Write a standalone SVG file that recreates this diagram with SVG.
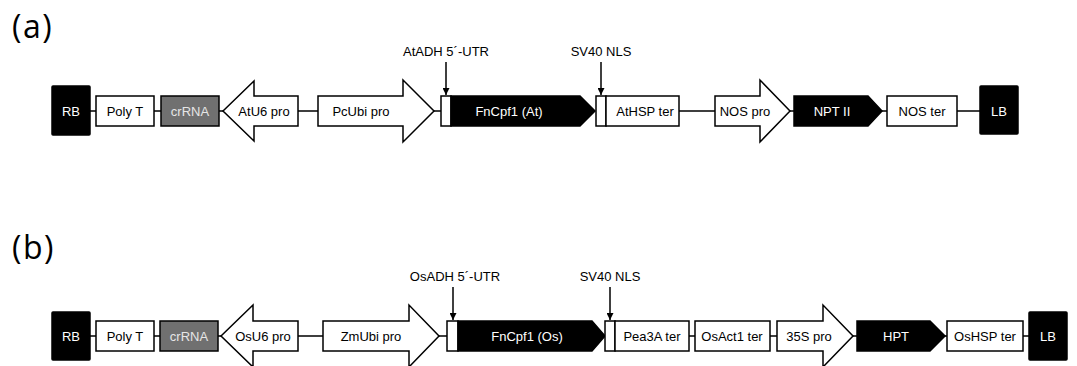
<svg xmlns="http://www.w3.org/2000/svg" width="1077" height="366" viewBox="0 0 1077 366">
<style>
.b{fill:#000;stroke:#000;stroke-width:1.5}
.w{fill:#fff;stroke:#000;stroke-width:1.5}
.g{fill:#707070;stroke:#000;stroke-width:1.5}
.t{font-family:"Liberation Sans",Arial,sans-serif;font-size:13px;text-anchor:middle;fill:#000}
.tw{font-family:"Liberation Sans",Arial,sans-serif;font-size:13px;text-anchor:middle;fill:#fff}
.tg{font-family:"Liberation Sans",Arial,sans-serif;font-size:13px;text-anchor:middle;fill:#e6e6e6}
.p{font-family:"Open Sans","Liberation Sans",sans-serif;font-size:32px;letter-spacing:1.5px;fill:#000}
.c{stroke:#000;stroke-width:1.5;fill:none}
</style>
<defs>
<marker id="ah" viewBox="0 0 10 10" refX="10" refY="5" markerWidth="7" markerHeight="7" markerUnits="userSpaceOnUse" orient="auto">
<path d="M0,0 L10,5 L0,10 z" fill="#000"/>
</marker>
</defs>
<rect width="1077" height="366" fill="#fff"/>
<text class="p" x="12" y="38">(a)</text>
<text class="p" x="12" y="259">(b)</text>

<g id="connectors">
<path class="c" d="M90,111H96M154,111H161M219,111H223M298,111H318M434,111H441M679,111H715M790,111H794M882,111H887M957,111H980"/>
<path class="c" d="M90,336H96M154,336H160M218,336H221M298,336H323M439,336H447M689,336H695M770,336H777M853,336H857M945,336H947M1023,336H1029"/>
<line class="c" x1="446" y1="62" x2="446" y2="95" marker-end="url(#ah)"/>
<line class="c" x1="601" y1="62" x2="601" y2="95" marker-end="url(#ah)"/>
<line class="c" x1="453" y1="287" x2="453" y2="320" marker-end="url(#ah)"/>
<line class="c" x1="610" y1="287" x2="610" y2="320" marker-end="url(#ah)"/>
</g>

<!-- Row a -->
<g id="a-rb"><rect class="b" x="52" y="86" width="38" height="49" rx="1"/><text class="tw" x="71" y="115.5">RB</text></g>
<g id="a-polyt"><rect class="w" x="96" y="96" width="58" height="30"/><text class="t" x="125" y="115.5">Poly T</text></g>
<g id="a-crrna"><rect class="g" x="161" y="96" width="58" height="30"/><text class="tg" x="190" y="115.5">crRNA</text></g>
<g id="a-atu6"><polygon class="w" points="223,111 254,81 254,96 298,96 298,126 254,126 254,141"/><text class="t" x="264" y="115.5">AtU6 pro</text></g>
<g id="a-pcubi"><polygon class="w" points="318,96 403,96 403,80 434,111 403,142 403,126 318,126"/><text class="t" x="361" y="115.5">PcUbi pro</text></g>
<g id="a-utr"><rect class="w" x="441" y="96" width="10" height="30"/><text class="t" x="446" y="56">AtADH 5´-UTR</text></g>
<g id="a-fncpf1"><polygon class="b" points="451,96 580,96 595,111 580,126 451,126"/><text class="tw" x="509" y="115.5">FnCpf1 (At)</text></g>
<g id="a-sv40"><rect class="w" x="596" y="96" width="10" height="30"/><text class="t" x="601" y="56">SV40 NLS</text></g>
<g id="a-athsp"><rect class="w" x="606" y="96" width="73" height="30"/><text class="t" x="645" y="115.5">AtHSP ter</text></g>
<g id="a-nospro"><polygon class="w" points="715,96 760,96 760,80 790,111 760,142 760,126 715,126"/><text class="t" x="745" y="115.5">NOS pro</text></g>
<g id="a-nptii"><polygon class="b" points="794,96 868,96 882,111 868,126 794,126"/><text class="tw" x="832" y="115.5">NPT II</text></g>
<g id="a-noster"><rect class="w" x="887" y="96" width="70" height="30"/><text class="t" x="922" y="115.5">NOS ter</text></g>
<g id="a-lb"><rect class="b" x="980" y="86" width="38" height="48" rx="1"/><text class="tw" x="999" y="115.5">LB</text></g>

<!-- Row b -->
<g id="b-rb"><rect class="b" x="52" y="312" width="38" height="48" rx="1"/><text class="tw" x="71" y="340.5">RB</text></g>
<g id="b-polyt"><rect class="w" x="96" y="321" width="58" height="30"/><text class="t" x="125" y="340.5">Poly T</text></g>
<g id="b-crrna"><rect class="g" x="160" y="321" width="58" height="30"/><text class="tg" x="189" y="340.5">crRNA</text></g>
<g id="b-osu6"><polygon class="w" points="221,336 253,305 253,321 298,321 298,351 253,351 253,367"/><text class="t" x="263" y="340.5">OsU6 pro</text></g>
<g id="b-zmubi"><polygon class="w" points="323,321 409,321 409,305 439,336 409,367 409,351 323,351"/><text class="t" x="371" y="340.5">ZmUbi pro</text></g>
<g id="b-utr"><rect class="w" x="447" y="321" width="11" height="30"/><text class="t" x="455" y="281">OsADH 5´-UTR</text></g>
<g id="b-fncpf1"><polygon class="b" points="458,321 592,321 605,336 592,351 458,351"/><text class="tw" x="527" y="340.5">FnCpf1 (Os)</text></g>
<g id="b-sv40"><rect class="w" x="605" y="321" width="10" height="30"/><text class="t" x="610" y="281">SV40 NLS</text></g>
<g id="b-pea3a"><rect class="w" x="615" y="321" width="74" height="30"/><text class="t" x="652" y="340.5">Pea3A ter</text></g>
<g id="b-osact1"><rect class="w" x="695" y="321" width="75" height="30"/><text class="t" x="732" y="340.5">OsAct1 ter</text></g>
<g id="b-35s"><polygon class="w" points="777,321 823,321 823,305 853,336 823,367 823,351 777,351"/><text class="t" x="809" y="340.5">35S pro</text></g>
<g id="b-hpt"><polygon class="b" points="857,321 930,321 945,336 930,351 857,351"/><text class="tw" x="896" y="340.5">HPT</text></g>
<g id="b-oshsp"><rect class="w" x="947" y="321" width="76" height="30"/><text class="t" x="985" y="340.5">OsHSP ter</text></g>
<g id="b-lb"><rect class="b" x="1029" y="312" width="38" height="48" rx="1"/><text class="tw" x="1048" y="340.5">LB</text></g>
</svg>
